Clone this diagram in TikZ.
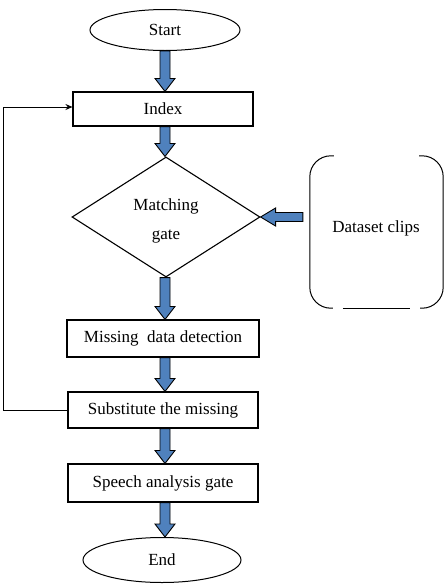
\documentclass[tikz,border=0pt]{standalone}
\usepackage{fontspec}
\setmainfont{Liberation Serif}
\usetikzlibrary{shapes.geometric,arrows.meta,calc}
\definecolor{barblue}{HTML}{4F81BD}
\tikzset{
  every node/.style={font=\fontsize{17}{20}\selectfont},
  procbox/.style={draw, line width=1.1pt, rectangle, inner sep=0pt},
  term/.style={draw, line width=1pt, ellipse, inner sep=0pt},
  barrow/.style={draw=black, fill=barblue, line width=0.9pt, line join=miter},
  feed/.style={draw, line width=1pt, -{Stealth[length=7pt,width=6pt]}}
}
\newcommand\vbarrow[2]{%
  \path[barrow] let \p1=(#1), \p2=(#2) in
    (\x1-5pt,\y1) -- (\x1+5pt,\y1) -- (\x1+5pt,\y2+13pt) -- (\x1+10pt,\y2+13pt)
    -- (\x1,\y2) -- (\x1-10pt,\y2+13pt) -- (\x1-5pt,\y2+13pt) -- cycle;}
\begin{document}
\begin{tikzpicture}[x=1pt,y=-1pt]
\useasboundingbox (0,0) rectangle (445,587);
\node[term, minimum width=150pt, minimum height=41pt] (start) at (165,30) {Start};
\node[procbox, minimum width=180pt, minimum height=34pt] (index) at (163,109) {Index};
\node[draw, line width=1.1pt, diamond, inner sep=0pt, minimum width=188pt, minimum height=120pt, shape aspect=1.57] (gate) at (166,217) {};
\node[align=center] (gatetext) at (166,221) {Matching\\[9pt]gate};
\node[minimum width=133pt, minimum height=152pt, inner sep=0pt] (data) at (376.5,232) {};
\node (datatext) at (376,228) {Dataset clips};
\draw[line width=1pt, rounded corners=21pt] ($(data.north west)+(24,0)$) -- (data.north west) -- (data.south west) -- ($(data.south west)+(23,0)$);
\draw[line width=1pt, rounded corners=21pt] ($(data.north east)+(-24,0)$) -- (data.north east) -- (data.south east) -- ($(data.south east)+(-23,0)$);
\draw[line width=1.1pt] ($(data.south west)+(33,0)$) -- ($(data.south east)+(-33,0)$);
\node[procbox, minimum width=192pt, minimum height=37pt] (miss) at (163,338.5) {Missing\ \ data detection};
\node[procbox, minimum width=190pt, minimum height=36pt] (subst) at (163,410) {Substitute the missing};
\node[procbox, minimum width=190pt, minimum height=38pt] (speech) at (163,483) {Speech analysis gate};
\node[term, minimum width=158pt, minimum height=45pt] (end) at (162,560) {End};
\coordinate (fbx) at (3,0);
\coordinate (col) at (165,0);
\vbarrow{col |- start.south}{index.north}
\vbarrow{col |- index.south}{gate.north}
\vbarrow{col |- gate.south}{miss.north}
\vbarrow{col |- miss.south}{subst.north}
\vbarrow{col |- subst.south}{speech.north}
\vbarrow{col |- speech.south}{end.north}
\path[barrow] let \p1=($(data.west |- gate.east)+(-7pt,0)$), \p2=(gate.east) in
  (\x1,\y1-4.5pt) -- (\x1,\y1+4.5pt) -- (\x2+15pt,\y1+4.5pt) -- (\x2+15pt,\y1+9pt)
  -- (\x2,\y1) -- (\x2+15pt,\y1-9pt) -- (\x2+15pt,\y1-4.5pt) -- cycle;
\coordinate (fbtop) at ($(index.west)+(0,-2)$);
\draw[feed] (subst.west) -- (fbx |- subst.west) -- (fbx |- fbtop) -- (fbtop);
\end{tikzpicture}
\end{document}
